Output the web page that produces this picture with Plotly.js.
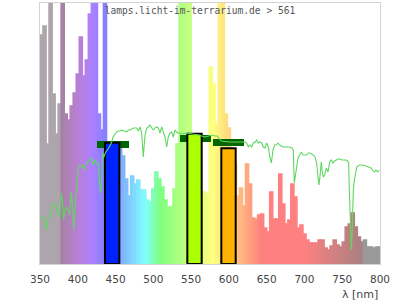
<!DOCTYPE html>
<html>
<head>
<meta charset="utf-8">
<script src="https://cdn.plot.ly/plotly-3.0.1.min.js"></script>
<style>html,body{margin:0;padding:0;background:#fff;}#chart{width:400px;height:300px;}</style>
</head>
<body>
<div id="chart"></div>
<script>
// Lamp spectrum (relative height), 4 nm bins
const specWl = [352,356,360,364,368,372,376,380,384,388,392,396,400,404,408,412,416,420,424,428,432,436,440,444,448,452,456,460,464,468,472,476,480,484,488,492,496,500,504,508,512,516,520,524,528,532,536,540,544,548,552,556,560,564,568,572,576,580,584,588,592,596,600,604,608,612,616,620,624,628,632,636,640,644,648,652,656,660,664,668,672,676,680,684,688,692,696,700,704,708,712,716,720,724,728,732,736,740,744,748,752,756,760,764,768,772,776,780,784,788,792,796,800];
const specVal = [229,238,120,300,170,130,160,300,150,144,158,171,190,227,188,204,250,300,300,150,134,300,110,100,95,100,116,108,85,68,88,80,84,74,74,64,62,75,92,85,77,64,57,57,75,120,300,300,300,300,120,110,110,72,72,70,197,180,140,300,300,150,136,110,100,68,76,58,100,80,46,45,49,50,36,32,72,45,45,90,60,40,44,80,67,36,39,30,24,21,21,21,24,24,16,14,18,24,19,17,22,37,40,51,37,27,22,24,17,17,16,17,17];

// Reference (daylight) curve
const sunWl = [351.7,354,356.2,358.3,360.6,362.8,365,367.2,369.5,371.6,373.8,376,378.2,379.5,381.4,382.7,384.8,387,389.3,391.4,392.7,394.6,396.7,399,400.3,402.5,404.7,406.9,409.2,411.3,413.5,415.8,417.9,420.1,422.4,424.5,426.8,429,430.3,431.7,433,434,437,441,445,446.6,448.9,451.5,453.6,455.9,458.1,460.2,462.5,464.7,466.9,469.1,471.4,473.5,475.7,478,480.1,482.4,484.6,486.7,489,491.2,493.3,495.6,497.8,500,502.2,504.5,506.6,508.8,511.1,513.2,515.4,517.7,519.8,522,524.3,526.4,528.7,530.9,533,538,545,552,560,568,574,578.3,581.6,584.3,590,600,610,618,621.3,623.5,625.7,627.9,630.2,632.4,634.6,636.8,638.9,641.2,643.4,645.5,647.8,650,652.2,654.1,656.2,658.4,660.6,662.7,665,667.2,669.4,671.6,675.6,679.6,683.5,685.2,686.6,689.2,691.5,693.7,695.8,698.1,700.3,703,705.1,707.3,709.6,711.7,714,716.2,717.9,719.3,721,722.3,723.7,725,726.8,728.9,731.2,733.4,735.5,737.8,740,742.2,744.4,747,749.7,752.3,755,757.2,758.5,759.3,760.3,761.2,762,763,763.9,764.7,766.1,767.4,769.2,772.6,777.1,781.5,785.8,788.1,790.3,792.4,794.7,796.9,799];
const sunVal = [46,47,41,34,46,49,52,61,59,57,51,47,71,64,44,54,57,54,49,72,61,34,64,77,94,99,97,99,94,101,102,104,106,99,104,101,101,79,71,87,111,106,112,116,122,127,130,132,133,133,134,133,133,132,134,134,135,136,136,136,133,137,131,107,129,136,137,139,136,134,136,137,136,131,137,131,127,117,127,131,132,127,134,132,131,130,131,130,129,127,128,129,128,128,123,122,122,122,122,121,117,119,117,121,122,124,121,122,121,117,116,121,117,107,101,114,119,119,121,119,118,117,117,117,116,114,81,97,106,109,112,109,109,109,111,111,110,109,107,101,87,79,91,102,92,87,89,96,92,102,104,101,103,104,105,105,104,104,104,103,101,77,57,41,14,29,57,74,84,91,97,99,99,98,97,96,94,92,94,92,94];

// Measured LED channels and their targets
const chanWl = [445.5, 554.5, 599.5];
const chanVal = [121.3, 130.3, 115.7];
const chanColor = ['#0022ff', '#aaff00', '#ffb300'];
const targetWl = [446.5, 556, 599.7];
const targetVal = [119.5, 125.7, 121.7];
const targetWidth = [43, 40.5, 41.6];

const titleText = 'lamps.licht-im-terrarium.de &gt; 561';
const tickVals = [350,400,450,500,550,600,650,700,750,800];

function specColor(w) {
  if (w < 380) return 'rgb(172,166,172)';
  if (w >= 780) return 'rgb(153,153,153)';
  let r = 0, g = 0, b = 0;
  if (w < 440) { r = (440 - w) / 60; b = 1; }
  else if (w < 490) { g = (w - 440) / 50; b = 1; }
  else if (w < 510) { g = 1; b = (510 - w) / 20; }
  else if (w < 580) { r = (w - 510) / 70; g = 1; }
  else if (w < 645) { r = 1; g = (645 - w) / 65; }
  else { r = 1; }
  let f = 1;
  if (w < 420) f = 0.3 + 0.7 * (w - 380) / 40;
  else if (w > 700) f = 0.3 + 0.7 * (780 - w) / 80;
  const m = v => Math.round(127.5 + 127.5 * v * f);
  return 'rgb(' + m(r) + ',' + m(g) + ',' + m(b) + ')';
}
const specColors = specWl.map(specColor);

const traces = [
  {
    type: 'bar', x: specWl, y: specVal, width: 4,
    marker: {color: specColors, line: {color: specColors, width: 1.6}},
    hoverinfo: 'skip', showlegend: false
  },
  {
    type: 'scatter', mode: 'lines', x: sunWl, y: sunVal,
    line: {color: 'rgb(95,215,95)', width: 1.1},
    hoverinfo: 'skip', showlegend: false
  },
  {
    type: 'bar', x: targetWl, y: targetVal.map(() => 7), base: targetVal.map(v => v - 3.5),
    width: targetWidth,
    marker: {color: '#006400', line: {width: 0}},
    hoverinfo: 'skip', showlegend: false
  },
  {
    type: 'bar', x: chanWl, y: chanVal, width: 19,
    marker: {color: chanColor, line: {color: '#000', width: 2}},
    hoverinfo: 'skip', showlegend: false
  }
];

const layout = {
  width: 400, height: 300,
  margin: {l: 40, r: 20, t: 3, b: 36, pad: 0},
  paper_bgcolor: '#fff', plot_bgcolor: '#fff',
  barmode: 'overlay', bargap: 0,
  showlegend: false,
  title: {
    text: titleText,
    font: {family: 'DejaVu Sans Mono', size: 9.6, color: '#555'},
    x: 0.5, xref: 'container', xanchor: 'center',
    y: 0.963, yref: 'container', yanchor: 'middle'
  },
  xaxis: {
    range: [350, 800], tickvals: tickVals, ticktext: tickVals.map(String),
    showgrid: false, zeroline: false, showline: true, mirror: true,
    linecolor: '#d3d3d3', linewidth: 1,
    ticks: 'outside', ticklen: 5, tickcolor: 'rgba(0,0,0,0)',
    tickfont: {family: 'DejaVu Sans', size: 10.5, color: '#444'}
  },
  yaxis: {
    range: [0, 261], showticklabels: false, showgrid: false, zeroline: false,
    showline: true, mirror: true, linecolor: '#d3d3d3', linewidth: 1, ticks: ''
  },
  annotations: [{
    text: 'λ [nm]', x: 1, xref: 'paper', xanchor: 'right',
    y: 0, yref: 'paper', yanchor: 'middle', yshift: -30,
    showarrow: false,
    font: {family: 'DejaVu Sans', size: 11, color: '#444'}
  }]
};

Plotly.newPlot('chart', traces, layout, {displayModeBar: false, staticPlot: true});
</script>
</body>
</html>
